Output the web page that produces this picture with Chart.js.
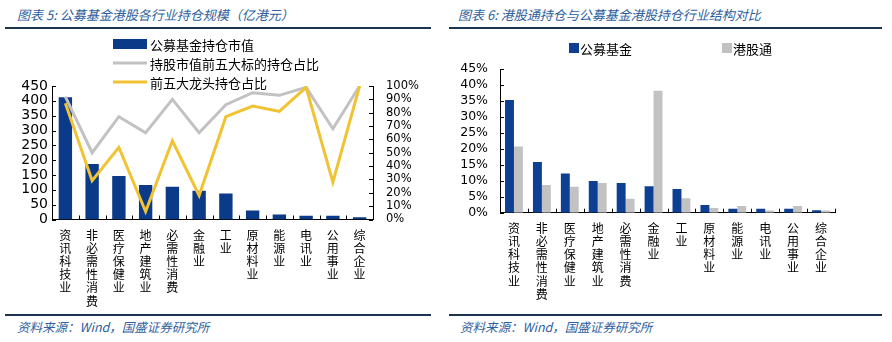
<!DOCTYPE html>
<html>
<head>
<meta charset="utf-8">
<script src="https://cdn.jsdelivr.net/npm/chart.js@4/dist/chart.umd.min.js"></script>
<style>
  body { margin: 0; width: 892px; height: 342px; background: #fff; position: relative; overflow: hidden; }
  .title, .source { position: absolute; font: italic 13px "Noto Sans CJK SC", sans-serif; color: #2f5f9e; white-space: nowrap; }
  .title { top: 5px; }
  .source { top: 317px; font-size: 12.5px; }
  .rule { position: absolute; height: 2px; background: #1c3450; }
  canvas { position: absolute; top: 30px; }
</style>
</head>
<body>
<div class="title" style="left:17px">图表 5: 公募基金港股各行业持仓规模（亿港元）</div>
<div class="title" style="left:458px">图表 6: 港股通持仓与公募基金港股持仓行业结构对比</div>
<div class="rule" style="left:5px;width:426px;top:27px"></div>
<div class="rule" style="left:449px;width:433px;top:27px"></div>
<div class="rule" style="left:5px;width:426px;top:314px"></div>
<div class="rule" style="left:449px;width:433px;top:314px"></div>
<div class="source" style="left:17px">资料来源：Wind，国盛证券研究所</div>
<div class="source" style="left:460px">资料来源：Wind，国盛证券研究所</div>

<canvas id="scaleChart" width="446" height="285" style="left:0"></canvas>
<canvas id="weightChart" width="446" height="285" style="left:446px"></canvas>

<script>
/* DATA */
const industries = ['资讯科技业', '非必需性消费', '医疗保健业', '地产建筑业', '必需性消费', '金融业',
  '工业', '原材料业', '能源业', '电讯业', '公用事业', '综合企业'];
const fundHoldValue = [412, 187, 147, 116, 110, 97, 88, 30, 17, 13, 13, 8];
const top5TargetShare = [92, 50, 77, 65, 90, 65, 86, 95, 93, 99, 68, 100];
const top5LeaderShare = [87, 29, 54, 6, 59, 18, 77, 85, 81, 99, 28, 100];
const fundWeight = [35.3, 15.9, 12.3, 9.9, 9.3, 8.3, 7.4, 2.4, 1.2, 1.2, 1.2, 0.8];
const connectWeight = [20.7, 8.7, 8.1, 9.3, 4.4, 38.2, 4.5, 1.5, 2.1, 0.7, 2.1, 0.7];
const valueTicks = [0, 50, 100, 150, 200, 250, 300, 350, 400, 450];
const shareTicks = [0, 10, 20, 30, 40, 50, 60, 70, 80, 90, 100];
const weightTicks = [0, 5, 10, 15, 20, 25, 30, 35, 40, 45];

/* COLORS */
const navy = '#0b3a88';
const navyBright = '#0d3f93';
const grey = '#c2c2c2';
const yellow = '#f1c232';
const cjk = '"Noto Sans CJK SC", sans-serif';
const num = '"DejaVu Sans", Verdana, sans-serif';

const stackedLabels = industries.map((s) => s.split(''));

/* PLUGIN: inward tick marks */
const innerTicks = {
  id: 'innerTicks',
  afterDraw(chart) {
    const { ctx, chartArea } = chart;
    ctx.save();
    ctx.strokeStyle = '#000';
    ctx.lineWidth = 1;
    ctx.beginPath();
    Object.values(chart.scales).forEach((scale) => {
      if (scale.axis === 'y') {
        const left = scale.position === 'left';
        const x = left ? chartArea.left : chartArea.right;
        scale.ticks.forEach((t, i) => {
          const y = Math.round(scale.getPixelForTick(i)) + 0.5;
          ctx.moveTo(x, y);
          ctx.lineTo(x + (left ? 4 : -4), y);
        });
      } else {
        for (let k = 0; k <= scale.ticks.length; k++) {
          const x = Math.round(scale.getPixelForValue(k - 0.5)) + 0.5;
          ctx.moveTo(x, chartArea.bottom);
          ctx.lineTo(x, chartArea.bottom - 4);
        }
      }
    });
    ctx.stroke();
    ctx.restore();
  },
};

/* PLUGIN: legend at fixed slots */
const slotLegend = {
  id: 'slotLegend',
  afterDraw(chart, args, opts) {
    const ctx = chart.ctx;
    ctx.save();
    ctx.font = `13px ${cjk}`;
    ctx.textBaseline = 'middle';
    opts.order.forEach((di, n) => {
      const ds = chart.data.datasets[di];
      const [x, y] = opts.slots[n];
      if (ds.type === 'line') {
        ctx.strokeStyle = ds.borderColor;
        ctx.lineWidth = ds.borderWidth;
        ctx.beginPath();
        ctx.moveTo(x, y);
        ctx.lineTo(x + opts.symbolW, y);
        ctx.stroke();
      } else {
        ctx.fillStyle = ds.backgroundColor;
        ctx.fillRect(x, y - opts.symbolH / 2, opts.symbolW, opts.symbolH);
      }
      ctx.fillStyle = '#000';
      ctx.fillText(ds.label, x + opts.symbolW + opts.gap, y + 1);
    });
    ctx.restore();
  },
};

function fixedTicks(list) {
  return (scale) => {
    scale.ticks = list.map((v) => ({ value: v }));
  };
}

const xAxis = (height, pad) => ({
  grid: { display: false, drawTicks: false },
  border: { color: '#000' },
  ticks: {
    color: '#000',
    font: { family: cjk, size: 12, lineHeight: 1.1 },
    maxRotation: 0,
    autoSkip: false,
    padding: pad,
  },
  afterFit: (s) => { s.height = height; },
});

/* 图表5 */
new Chart(document.getElementById('scaleChart'), {
  type: 'bar',
  data: {
    labels: stackedLabels,
    datasets: [
      {
        type: 'bar',
        label: '公募基金持仓市值',
        data: fundHoldValue,
        backgroundColor: navy,
        yAxisID: 'yVal',
        categoryPercentage: 0.5,
        barPercentage: 1,
        order: 2,
      },
      {
        type: 'line',
        label: '持股市值前五大标的持仓占比',
        data: top5TargetShare,
        borderColor: grey,
        borderWidth: 3,
        pointRadius: 0,
        yAxisID: 'yPct',
        order: 1,
      },
      {
        type: 'line',
        label: '前五大龙头持仓占比',
        data: top5LeaderShare,
        borderColor: yellow,
        borderWidth: 3,
        pointRadius: 0,
        yAxisID: 'yPct',
        order: 0,
      },
    ],
  },
  options: {
    responsive: false,
    animation: false,
    layout: { padding: { top: 56, left: 0, right: 0, bottom: 0 } },
    plugins: {
      legend: { display: false },
      tooltip: { enabled: false },
      slotLegend: { order: [0, 1, 2], slots: [[113, 14], [113, 33], [113, 52]], symbolW: 34, symbolH: 10, gap: 3 },
    },
    scales: {
      x: xAxis(95.5, 9),
      yVal: {
        position: 'left',
        min: 0,
        max: 450,
        grid: { display: false, drawTicks: false },
        border: { color: '#000' },
        ticks: { color: '#000', font: { family: num, size: 14, lineHeight: 1 }, padding: 4, autoSkip: false },
        afterBuildTicks: fixedTicks(valueTicks),
        afterFit: (s) => { s.width = 52; },
      },
      yPct: {
        position: 'right',
        min: 0,
        max: 100,
        grid: { display: false, drawTicks: false },
        border: { color: '#000' },
        ticks: { color: '#000', font: { family: num, size: 11.5, lineHeight: 1 }, padding: 13, autoSkip: false, callback: (v) => v + '%' },
        afterBuildTicks: fixedTicks(shareTicks),
        afterFit: (s) => { s.width = 73; },
      },
    },
  },
  plugins: [innerTicks, slotLegend],
});

/* 图表6 */
new Chart(document.getElementById('weightChart'), {
  type: 'bar',
  data: {
    labels: stackedLabels,
    datasets: [
      {
        type: 'bar',
        label: '公募基金',
        data: fundWeight,
        backgroundColor: navyBright,
        categoryPercentage: 0.64,
        barPercentage: 1,
      },
      {
        type: 'bar',
        label: '港股通',
        data: connectWeight,
        backgroundColor: grey,
        categoryPercentage: 0.64,
        barPercentage: 1,
      },
    ],
  },
  options: {
    responsive: false,
    animation: false,
    layout: { padding: { top: 39, left: 0, right: 57, bottom: 0 } },
    plugins: {
      legend: { display: false },
      tooltip: { enabled: false },
      slotLegend: { order: [0, 1], slots: [[123, 18], [276, 18]], symbolW: 10, symbolH: 10, gap: 1 },
    },
    scales: {
      x: xAxis(102.3, 9),
      y: {
        min: 0,
        max: 45,
        grid: { display: false, drawTicks: false },
        border: { color: '#000' },
        ticks: { color: '#000', font: { family: num, size: 12.5, lineHeight: 1 }, padding: 12, autoSkip: false, callback: (v) => v + '%' },
        afterBuildTicks: fixedTicks(weightTicks),
        afterFit: (s) => { s.width = 54; },
      },
    },
  },
  plugins: [innerTicks, slotLegend],
});
</script>
</body>
</html>
